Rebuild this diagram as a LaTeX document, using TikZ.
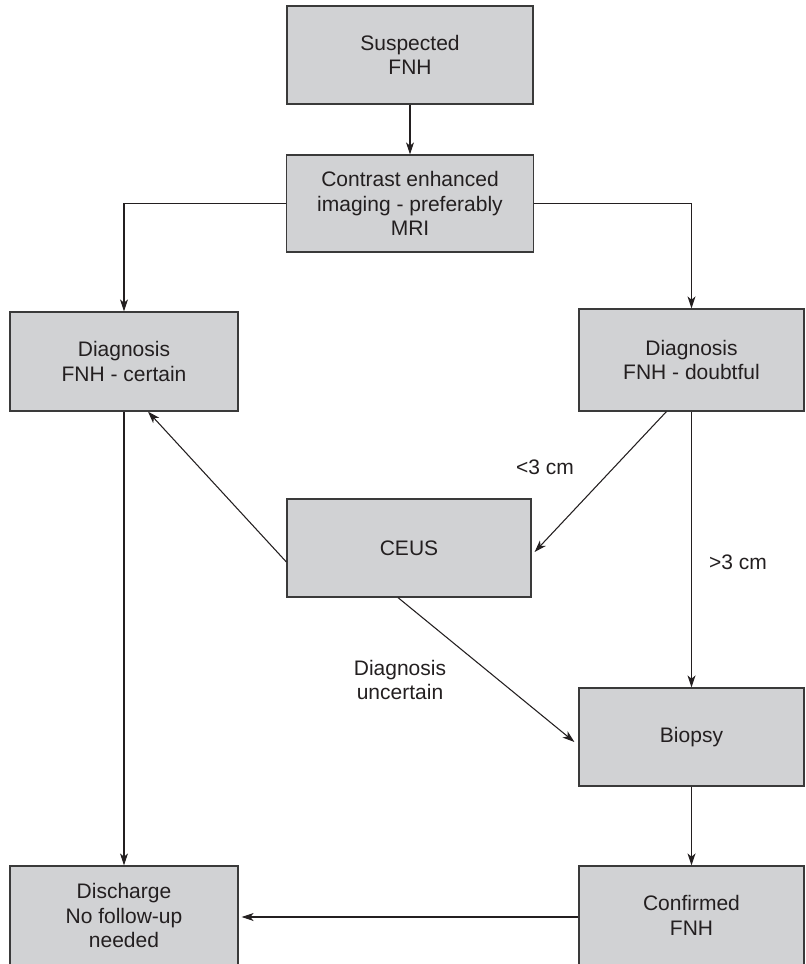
\documentclass[tikz,border=0pt]{standalone}
\usepackage{fontspec}
\setmainfont{Liberation Sans}
\usetikzlibrary{arrows.meta,calc}
\definecolor{boxfill}{HTML}{D1D2D4}
\definecolor{boxline}{HTML}{3A3A3A}
\definecolor{inktext}{HTML}{231F20}
\tikzset{
  flowbox/.style={draw=boxline, line width=0.9pt, fill=boxfill, align=center,
    inner sep=0pt, font=\fontsize{15.75}{18.5}\selectfont, text=inktext},
  flowarrow/.style={draw=inktext, line width=0.8pt, -{Stealth[length=9pt,width=6pt,inset=2.5pt]}},
  lbl/.style={align=center, font=\fontsize{15.75}{18.5}\selectfont, text=inktext}
}
\begin{document}
\begin{tikzpicture}[x=0.75pt,y=-0.75pt]
\useasboundingbox (0,0) rectangle (806,964);
\clip (0,0) rectangle (806,964);
\node[flowbox, minimum width=184.5pt, minimum height=73.5pt] (s) at (410,55) {Suspected\\FNH};
\node[flowbox, minimum width=185.25pt, minimum height=72.75pt] (c) at (410,203.5) {Contrast enhanced\\imaging - preferably\\MRI};
\node[flowbox, minimum width=171pt, minimum height=74.25pt] (d1) at (124,361.5) {Diagnosis\\FNH - certain};
\node[flowbox, minimum width=168.75pt, minimum height=76.5pt] (d2) at (691.5,360) {Diagnosis\\FNH - doubtful};
\node[flowbox, minimum width=183pt, minimum height=73.5pt] (ceus) at (409,548) {CEUS};
\node[flowbox, minimum width=168.75pt, minimum height=73.5pt] (bio) at (691.5,737) {Biopsy};
\node[flowbox, minimum width=171pt, minimum height=74.25pt] (dis) at (124,915.5) {Discharge\\No follow-up\\needed};
\node[flowbox, minimum width=168.75pt, minimum height=74.25pt] (conf) at (691.5,915.5) {Confirmed\\FNH};

\draw[flowarrow] (s.south) -- (c.north);
\draw[flowarrow] (c.west) -| (d1.north);
\draw[flowarrow] (c.east) -| (d2.north);
\coordinate (d2a) at ($(d2.south west)+(88,0)$);
\coordinate (ceusE) at ($(ceus.east)+(3,4)$);
\draw[flowarrow] (d2a) -- (ceusE);
\coordinate (ceusW) at ($(ceus.west)+(0,14)$);
\coordinate (d1b) at ($(d1.south)+(24,0)$);
\draw[flowarrow] (ceusW) -- (d1b);
\draw[flowarrow] (d2.south) -- (bio.north);
\coordinate (ceusS) at ($(ceus.south)+(-11,0)$);
\coordinate (bioW) at ($(bio.west)+(-4,5)$);
\draw[flowarrow] (ceusS) -- (bioW);
\draw[flowarrow] (bio.south) -- (conf.north);
\draw[flowarrow] (d1.south) -- (dis.north);
\coordinate (disE) at ($(dis.east)+(3,1.5)$);
\coordinate (confW) at ($(conf.west)+(0,1.5)$);
\draw[flowarrow] (confW) -- (disE);

\node[lbl] (l1) at (545,467) {<3 cm};
\node[lbl] (l2) at (738,562) {>3 cm};
\node[lbl] (l3) at (400,680) {Diagnosis\\uncertain};
\end{tikzpicture}
\end{document}
